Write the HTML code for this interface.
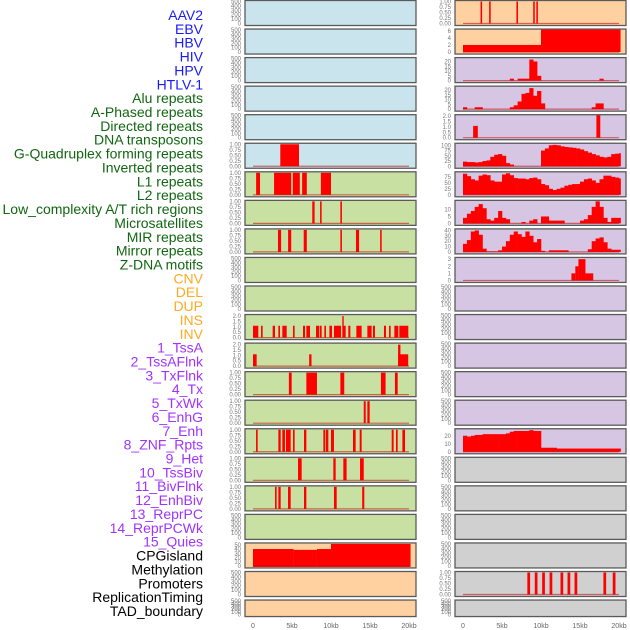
<!DOCTYPE html>
<html><head><meta charset="utf-8"><style>
html,body{margin:0;padding:0;background:#fff;}
svg{display:block;font-family:"Liberation Sans",sans-serif;}
</style></head><body>
<svg id="chart" width="630" height="630" viewBox="0 0 630 630" xmlns="http://www.w3.org/2000/svg"></svg>
<script>
// ---------- data ----------
const trackLabels = ["AAV2","EBV","HBV","HIV","HPV","HTLV-1","Alu repeats","A-Phased repeats","Directed repeats","DNA transposons","G-Quadruplex forming repeats","Inverted repeats","L1 repeats","L2 repeats","Low_complexity A/T rich regions","Microsatellites","MIR repeats","Mirror repeats","Z-DNA motifs","CNV","DEL","DUP","INS","INV","1_TssA","2_TssAFlnk","3_TxFlnk","4_Tx","5_TxWk","6_EnhG","7_Enh","8_ZNF_Rpts","9_Het","10_TssBiv","11_BivFlnk","12_EnhBiv","13_ReprPC","14_ReprPCWk","15_Quies","CPGisland","Methylation","Promoters","ReplicationTiming","TAD_boundary"];
const labelGroups = ["v","v","v","v","v","v","r","r","r","r","r","r","r","r","r","r","r","r","r","s","s","s","s","s","c","c","c","c","c","c","c","c","c","c","c","c","c","c","c","o","o","o","o","o"];
const xTickLabels = ["0","5kb","10kb","15kb","20kb"];
const xTickValues = [0,5,10,15,20];

// interval tracks (kb start, kb end, value)
const leftGQuad = [[3.5,5.9,1]];
const leftL1 = [[0.4,0.9,1],[2.7,4.9,1],[5.1,6.0,1],[6.3,6.9,1],[8.7,10.0,1]];
const leftL2 = [[7.6,7.9,1],[8.6,8.8,1],[11.2,11.4,1]];
const leftMirror = [[3.2,3.6,1],[4.5,4.9,1],[6.5,6.9,1],[11.2,11.4,1],[13.2,13.6,1],[16.3,16.5,1]];
const leftINS = [[0.0,0.68,1.1],[1.03,1.24,1.1],[2.52,2.82,1.1],[3.25,3.46,1.1],[3.76,4.32,1.1],[5.13,5.34,1.1],[6.41,6.67,1.1],[6.84,7.31,1.1],[8.08,8.5,1.1],[8.59,8.8,1.1],[9.15,9.36,1.1],[9.79,10.13,1.1],[10.38,11.28,1.1],[11.45,11.6,2.0],[11.58,11.88,1.1],[12.22,12.48,1.1],[13.25,13.93,1.1],[14.66,15.21,1.1],[15.38,15.64,1.1],[16.79,17.05,1.1],[17.44,17.65,1.1],[18.12,18.63,1.1],[18.76,19.91,1.1]];
const leftTssAFlnk = [[0.0,0.47,1.1],[7.2,7.5,1.1],[18.6,19.9,1.1],[18.6,18.9,2.0]];
const leftTxFlnk = [[4.6,4.96,1],[6.84,8.2,1],[11.2,11.7,1],[16.4,17.0,1],[18.2,18.55,1]];
const leftTx = [[14.2,14.45,1],[14.66,14.96,1]];
const leftTxWk = [[0.39,0.6,1],[3.25,3.55,1],[3.76,4.1,1],[4.23,4.83,1],[5.13,5.34,1],[6.54,6.84,1],[9.02,9.23,1],[9.32,9.66,1],[10.0,10.38,1],[12.82,13.16,1],[13.68,13.93,1],[17.78,18.03,1],[18.33,18.55,1],[19.15,19.49,1]];
const leftEnhG = [[5.77,6.24,1],[10.3,10.6,1],[11.58,12.0,1],[13.72,14.2,1]];
const leftEnh = [[2.82,3.03,1],[3.25,3.55,1],[4.49,4.83,1],[6.54,6.84,1],[10.38,10.73,1],[14.0,14.27,1]];
const leftCPG = [[0,5.2,40],[5.2,8.2,38],[8.2,10,40],[10,20.2,52]];
const rightAAV2 = [[2.25,2.45,1],[3.35,3.55,1],[6.85,7.05,1],[9.0,9.2,1],[9.4,9.6,1]];
const rightEBV = [[0,10,2],[10,20.2,6.5]];
const rightAlu = [[1.3,1.9,1.1],[17.1,17.6,2.1]];
const rightZDNA = [[13.9,14.4,1],[14.4,14.8,2],[14.8,15.7,3],[15.7,16.7,1]];
const rightPromoters = [[8.25,8.6,1],[9.2,9.55,1],[10.15,10.5,1],[11.1,11.45,1],[12.5,12.85,1],[13.4,13.75,1],[14.3,14.65,1],[18.0,18.35,1],[19.2,19.55,1]];

// binned tracks (0.5 kb bins starting at 0)
const rightHIV = [0,0,0,0,0,0,0,0,0,0,0,0,2,0,2,2,2,22,20,5,0,0,0,0,0,0,0,0,0,0,0,0,0,0,0,2,0,0,0,0,0];
const rightHPV = [2,0,0,2,2,0,0,0,0,0,0,0,2,4,8,16,17,22,14,19,6,0,0,0,0,0,0,0,0,0,0,0,0,2,6,6,0,0,0,0,0];
const rightGQuad = [22,20,20,18,20,25,28,45,55,58,50,15,8,0,0,0,0,0,0,0,75,85,100,102,100,95,92,90,88,85,80,72,65,58,52,45,42,45,58,60,62];
const rightL1 = [88,78,65,60,80,85,82,60,55,55,85,90,82,70,68,68,65,70,72,65,45,40,25,20,25,30,38,42,45,45,55,65,68,60,50,65,80,80,75,72,68];
const rightInverted = [4,7,9,12,14,11,3,2,4,9,4,3,0,0,0,1,0,2,3,0,5,5,2,2,2,2,0,0,0,0,2,3,6,12,16,12,4,1,4,4,4];
const rightMIR = [15,22,38,40,32,6,1,1,1,3,10,20,32,38,33,28,38,30,18,24,2,0,3,3,3,3,3,0,0,0,0,0,5,20,25,27,18,6,4,4,4];
const rightHet = [20,19,20,21,21,22,22,22,22,22,22,23,25,26,26,26,26,27,26,26,5,5,5,5,4,4,4,4,4,4,4,4,4,4,4,4,4,4,4,4,4];

// ---------- layout ----------
const svg = document.getElementById('chart');
const NS = 'http://www.w3.org/2000/svg';
const BG = {b:'#c9e4ec', g:'#c8e1a3', o:'#ffd0a0', p:'#d6c6e4', k:'#d0d0d0'};
const LX0 = 253, RX0 = 463, PXKB = 7.8;
const ROW = 28.55;
const emptyTicks = [0,100,200,300,400,500];
const t01 = [0,0.25,0.5,0.75,1];
const t02 = [0,0.5,1,1.5,2];

function el(tag, attrs, parent){const e=document.createElementNS(NS,tag);for(const k in attrs)e.setAttribute(k,attrs[k]);(parent||svg).appendChild(e);return e;}

// labels
const labelColors = {v:'#1a1aff', r:'#116611', s:'#ffaa22', c:'#a033ff', o:'#000000'};
trackLabels.forEach((t,i)=>{
  const tx = el('text',{x:203,y:20+13.86*i,'text-anchor':'end','font-size':14,fill:labelColors[labelGroups[i]]});
  tx.textContent = t;
  
  
});

// panels: [side, row, bg, kind, data, yMax, ticks, tickFmt]
const panels = [
 ['L',0,'b','e'],['L',1,'b','e'],['L',2,'b','e'],['L',3,'b','e'],['L',4,'b','e'],
 ['L',5,'b','i',leftGQuad,1.0,t01,2],['L',6,'g','i',leftL1,1.0,t01,2],['L',7,'g','i',leftL2,1.0,t01,2],
 ['L',8,'g','i',leftMirror,1.0,t01,2],['L',9,'g','e'],['L',10,'g','e'],
 ['L',11,'g','i',leftINS,2.05,t02,1],['L',12,'g','i',leftTssAFlnk,2.05,t02,1],
 ['L',13,'g','i',leftTxFlnk,1.0,t01,2],['L',14,'g','i',leftTx,1.0,t01,2],['L',15,'g','i',leftTxWk,1.0,t01,2],
 ['L',16,'g','i',leftEnhG,1.0,t01,2],['L',17,'g','i',leftEnh,1.0,t01,2],['L',18,'g','e'],
 ['L',19,'o','i',leftCPG,52,[0,10,20,30,40,50],0],['L',20,'o','e'],['L',21,'o','e'],
 ['R',0,'o','i',rightAAV2,1.0,t01,2],['R',1,'o','i',rightEBV,6.2,[0,2,4,6],0],
 ['R',2,'p','a',rightHIV,23,[0,5,10,15,20],0],['R',3,'p','a',rightHPV,23,[0,5,10,15,20],0],
 ['R',4,'p','i',rightAlu,2.05,t02,1],['R',5,'p','a',rightGQuad,105,[0,25,50,75,100],0],
 ['R',6,'p','a',rightL1,92,[0,25,50,75],0],['R',7,'p','a',rightInverted,16,[0,5,10],0],
 ['R',8,'p','a',rightMIR,41,[0,10,20,30,40],0],['R',9,'p','i',rightZDNA,3.1,[0,1,2,3],0],
 ['R',10,'p','e'],['R',11,'p','e'],['R',12,'p','e'],['R',13,'p','e'],['R',14,'p','e'],
 ['R',15,'p','a',rightHet,27.5,[0,10,20],0],
 ['R',16,'k','e'],['R',17,'k','e'],['R',18,'k','e'],['R',19,'k','e'],
 ['R',20,'k','i',rightPromoters,1.0,t01,2],['R',21,'k','e']
];

panels.forEach(p=>{
  const [side,row,bg,kind,data,yMax,ticks,fmt] = p;
  const top = 0.5 + ROW*row;
  const h = row===21 ? 16.5 : 25;
  const px = side==='L'?245:455, pw = 171;
  const x0 = side==='L'?LX0:RX0;
  const g = el('g',{});
  
  
  el('rect',{x:px,y:top,width:pw,height:h,fill:BG[bg],stroke:'#5a5a5a','stroke-width':1.3},g);
  const base = top + h - 2;
  const plotH = h - 3;
  const xs = kb => x0 + kb*PXKB;
  // y ticks
  if(kind==='e'){
    emptyTicks.forEach(v=>{
      const t = el('text',{x:px-4,y:base - v/500*plotH + 2,'text-anchor':'end','font-size':6,fill:'#777'},g);
      t.textContent = v;
    });
    return;
  }
  const ys = v => base - Math.min(v,yMax*1.05)/yMax*plotH;
  ticks.forEach(v=>{
    const t = el('text',{x:px-4,y:ys(v)+2,'text-anchor':'end','font-size':6,fill:'#777'},g);
    t.textContent = fmt ? v.toFixed(fmt) : v;
  });
  if(kind==='i'){
    data.forEach(d=>{
      const y = Math.max(ys(d[2]), top+0.5);
      const r = el('rect',{x:xs(d[0]),y:y,width:Math.max(1.4,xs(d[1])-xs(d[0])),height:base-y+(side==='L'&&row===19?1:0),fill:'#ff0000'},g);
      
      
    });
  } else {
    data.forEach((v,i)=>{
      if(v<=0) return;
      const k0 = i*0.5, k1 = Math.min((i+1)*0.5, 20.2);
      const y = Math.max(ys(v), top+0.5);
      const r = el('rect',{x:xs(k0),y:y,width:xs(k1)-xs(k0)+0.3,height:base-y,fill:'#ff0000'},g);
      
      
    });
  }
  el('line',{x1:xs(0),x2:xs(20),y1:base,y2:base,stroke:'rgba(200,0,0,0.55)','stroke-width':1.2},g);
});

// x axes
['L','R'].forEach(side=>{
  const x0 = side==='L'?LX0:RX0;
  xTickValues.forEach((v,i)=>{
    const t = el('text',{x:x0+v*PXKB,y:628,'text-anchor':'middle','font-size':7,fill:'#666'});
    t.textContent = xTickLabels[i];
    
    
  });
});
</script>
</body></html>
